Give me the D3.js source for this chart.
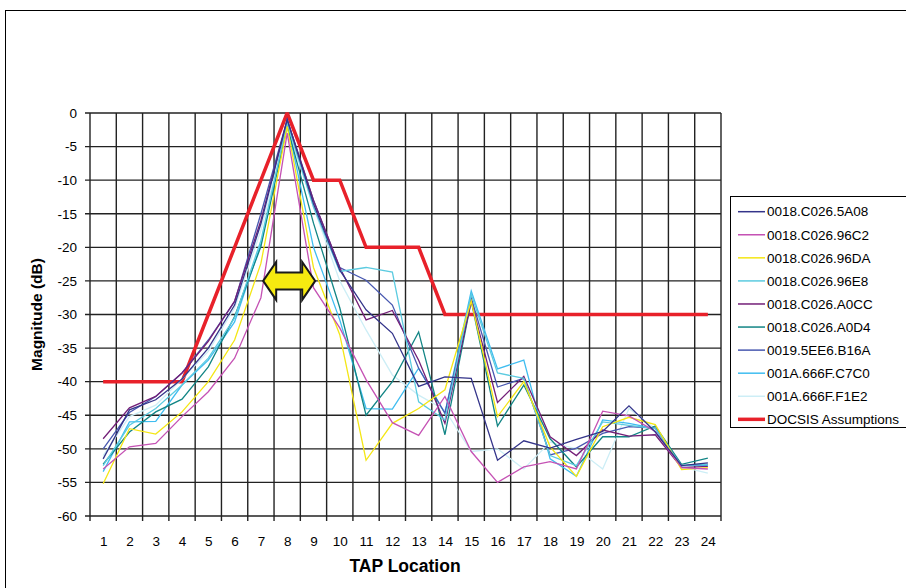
<!DOCTYPE html>
<html>
<head>
<meta charset="utf-8">
<script src="https://cdn.jsdelivr.net/npm/d3@7"></script>
<style>
  html, body { margin: 0; padding: 0; background: #fff; }
  svg { display: block; font-family: "Liberation Sans", Arial, sans-serif; }
</style>
</head>
<body>
<svg id="chart" width="906" height="588"></svg>
<script>
// tap positions on the x axis
const taps = d3.range(1, 25);

// y axis ticks, dB
const yTicks = [0, -5, -10, -15, -20, -25, -30, -35, -40, -45, -50, -55, -60];

const seriesNames = [
  '0018.C026.5A08', '0018.C026.96C2', '0018.C026.96DA', '0018.C026.96E8',
  '0018.C026.A0CC', '0018.C026.A0D4', '0019.5EE6.B16A', '001A.666F.C7C0',
  '001A.666F.F1E2'
];
const seriesColors = [
  '#34348a', '#c552b4', '#f4e614', '#5ccbe0',
  '#731f78', '#128585', '#4858b0', '#3fbdf0',
  '#cdeef6'
];

// magnitudes (dB) per tap
const s5A08 = [-51.5, -44.2, -42.7, -39.6, -35, -28.6, -16.5, -1, -13.5, -23.4, -29.3, -32.8, -40.7, -39.3, -39.5, -51.7, -48.8, -49.9, -48.6, -47.4, -43.6, -47.5, -52.5, -52.1];
const s96C2 = [-53, -49.7, -49.2, -45.2, -41.5, -36.5, -27.5, -3, -26, -32, -39.7, -46.1, -48, -42.2, -50.4, -55, -52.7, -51.9, -53, -44.4, -45.1, -47.4, -52.8, -53];
const s96DA = [-55.2, -47, -47.8, -44.5, -40, -33.8, -22.4, -2, -23, -33, -51.7, -46.2, -44, -41.2, -28, -45.2, -40, -49.7, -54.1, -46.7, -45.3, -46.4, -53.1, -52.8];
const s96E8 = [-52.5, -46.5, -44, -40.5, -36.5, -30.5, -19, -1.5, -14, -23.6, -23, -23.7, -43, -45.7, -27, -38.7, -39.5, -51, -52.5, -46, -46.5, -47, -52.5, -52.3];
const sA0CC = [-48.5, -43.9, -42.2, -38.7, -34, -28, -16, -1, -13, -23, -30.8, -29.4, -36.8, -46.2, -28, -43.1, -39.2, -48.2, -51, -47.2, -48.1, -47.9, -52.8, -52.6];
const sA0D4 = [-52.3, -47.5, -44.5, -42.6, -37.8, -30.3, -19.9, -2, -16.4, -29, -45, -40, -32.6, -47.9, -28, -46.6, -40.5, -48.5, -52.7, -48.2, -48.2, -46.6, -52.3, -51.4];
const sB16A = [-50, -44.6, -42.2, -38.7, -33.8, -28.1, -15, -1, -13, -23, -24.9, -28.6, -38, -44.7, -27.5, -40.8, -39.5, -50.9, -49.9, -47.7, -46.7, -46.9, -52.5, -52.3];
const sC7C0 = [-53.4, -46, -45.9, -40.5, -36.8, -31.1, -19.5, -1.5, -20, -30.8, -44, -44.1, -38, -44.7, -26.5, -38.1, -36.8, -51.5, -54.1, -45.7, -46.2, -47, -52.5, -52.5];
const sF1E2 = [-51, -45.2, -43.5, -39.6, -35.5, -29, -17.5, -2, -14, -25, -32.3, -39, -42, -44.2, -50.4, -50, -53, -49, -50, -53, -44, -47, -52.7, -53.6];

const docsis = [-40, -40, -40, -40, -30, -20, -10, 0, -10, -10, -20, -20, -20, -30, -30, -30, -30, -30, -30, -30, -30, -30, -30, -30];

const seriesValues = [s5A08, s96C2, s96DA, s96E8, sA0CC, sA0D4, sB16A, sC7C0, sF1E2];

const svg = d3.select('#chart');

const plot = {left: 90, right: 721, top: 113, bottom: 516};

const x = d3.scalePoint()
  .domain(taps)
  .range([plot.left, plot.right])
  .padding(0.5);
const step = x.step();

const y = d3.scaleLinear()
  .domain([-60, 0])
  .range([plot.bottom, plot.top]);

// outer chart frame
svg.append('rect')
  .attr('x', 5.5).attr('y', 10.5)
  .attr('width', 1000).attr('height', 700)
  .attr('fill', 'none')
  .attr('stroke', '#000')
  .attr('stroke-width', 1);

const grid = svg.append('g').attr('stroke', '#222').attr('stroke-width', 1.4);

// vertical gridlines at the category edges
const edges = taps.map(t => x(t) - step / 2).concat([x(24) + step / 2]);
grid.selectAll('line.v')
  .data(edges)
  .join('line')
  .attr('class', 'v')
  .attr('x1', d => d).attr('x2', d => d)
  .attr('y1', plot.top).attr('y2', plot.bottom + 5);

// horizontal gridlines
grid.selectAll('line.h')
  .data(yTicks)
  .join('line')
  .attr('class', 'h')
  .attr('x1', plot.left - 5).attr('x2', plot.right)
  .attr('y1', d => y(d)).attr('y2', d => y(d));

// y axis labels
const yAxis = svg.append('g')
  .attr('transform', `translate(${plot.left - 10},0)`)
  .call(d3.axisLeft(y).tickValues(yTicks).tickSize(0).tickFormat(d => String(d)));
yAxis.select('.domain').remove();
yAxis.selectAll('text')
  .attr('font-family', '"Liberation Sans", Arial, sans-serif')
  .attr('font-size', 13.5)
  .attr('fill', '#000');

// x axis labels
const xAxis = svg.append('g')
  .attr('transform', `translate(0,${plot.bottom + 17})`)
  .call(d3.axisBottom(x).tickSize(0));
xAxis.select('.domain').remove();
xAxis.selectAll('text')
  .attr('font-family', '"Liberation Sans", Arial, sans-serif')
  .attr('font-size', 13.5)
  .attr('fill', '#000');

svg.append('text')
  .attr('x', 405)
  .attr('y', 572)
  .attr('text-anchor', 'middle')
  .attr('font-size', 17.5)
  .attr('font-weight', 'bold')
  .text('TAP Location');

svg.append('text')
  .attr('transform', `translate(42,${(plot.top + plot.bottom) / 2}) rotate(-90)`)
  .attr('text-anchor', 'middle')
  .attr('font-size', 15.5)
  .attr('font-weight', 'bold')
  .text('Magnitude (dB)');

const line = d3.line()
  .x((d, i) => x(taps[i]))
  .y(d => y(d));

// red assumption line under the measurements
svg.append('path')
  .datum(docsis)
  .attr('d', line)
  .attr('fill', 'none')
  .attr('stroke', '#e8212a')
  .attr('stroke-width', 3.5)
  .attr('stroke-linejoin', 'miter')
  .attr('stroke-miterlimit', 2.5);

svg.append('g')
  .selectAll('path')
  .data(seriesValues.map((v, i) => ({v, i})).reverse())
  .join('path')
  .attr('d', d => line(d.v))
  .attr('fill', 'none')
  .attr('stroke', d => seriesColors[d.i])
  .attr('stroke-width', 1.3);

// yellow double arrow annotation
const cx = x(8) + 2, cy = y(-25);
const hw = 26, head = 13, hh = 19, sh = 8.5;
const arrowPts = [
  [cx - hw, cy], [cx - hw + head, cy - hh], [cx - hw + head, cy - sh],
  [cx + hw - head, cy - sh], [cx + hw - head, cy - hh], [cx + hw, cy],
  [cx + hw - head, cy + hh], [cx + hw - head, cy + sh],
  [cx - hw + head, cy + sh], [cx - hw + head, cy + hh]
];
svg.append('polygon')
  .attr('points', arrowPts.map(p => p.join(',')).join(' '))
  .attr('fill', '#f6ea10')
  .attr('stroke', '#1a1a1a')
  .attr('stroke-width', 2)
  .attr('stroke-linejoin', 'miter');

// legend
const legend = svg.append('g');
legend.append('rect')
  .attr('x', 730.5).attr('y', 196.5)
  .attr('width', 200).attr('height', 231)
  .attr('fill', '#fff')
  .attr('stroke', '#000');

const legendNames = seriesNames.concat(['DOCSIS Assumptions']);
const legendColors = seriesColors.concat(['#e8212a']);

const items = legend.selectAll('g.item')
  .data(legendNames)
  .join('g')
  .attr('class', 'item')
  .attr('transform', (d, i) => `translate(738,${211.7 + i * 23.07})`);

items.append('line')
  .attr('x1', 0).attr('x2', 27)
  .attr('stroke', (d, i) => legendColors[i])
  .attr('stroke-width', (d, i) => i === 9 ? 3.5 : 1.5);

items.append('text')
  .attr('x', 29)
  .attr('dy', '0.35em')
  .attr('font-size', 13.5)
  .text(d => d);
</script>
</body>
</html>
